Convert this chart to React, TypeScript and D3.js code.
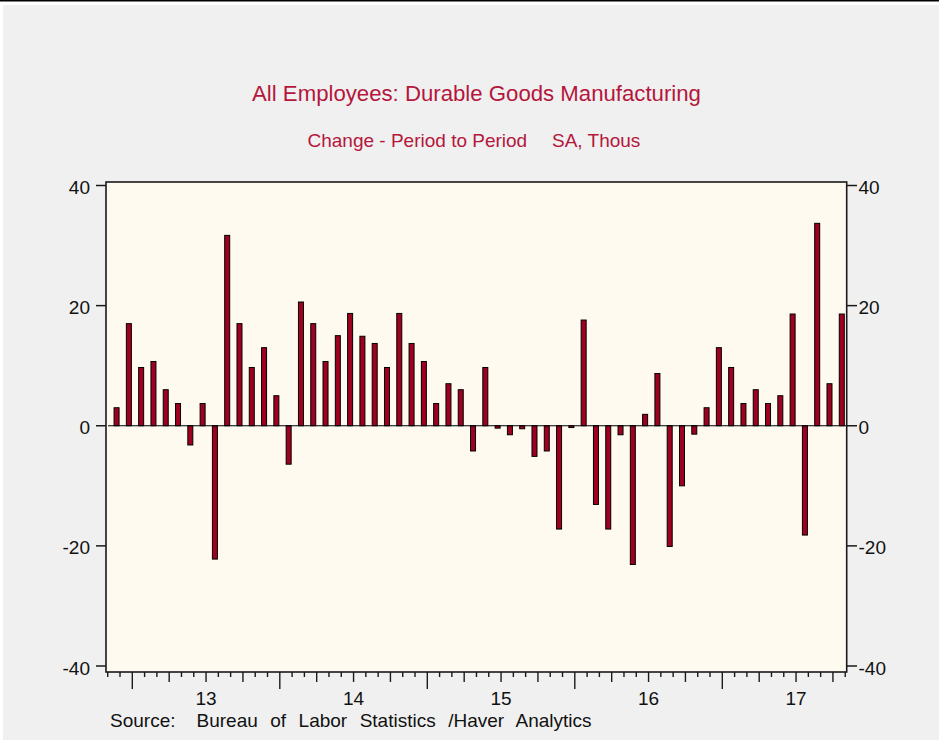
import React, { useEffect } from 'react';
import * as d3 from 'd3';

// Monthly change, SA, thousands — first bar is Nov 2012 (month index -2 relative to Jan 2013)
const firstMonthIndex = -2;
const values = [
  3, 17, 9.7, 10.7, 6, 3.7, -3.2, 3.7, -22.2, 31.7, 17, 9.7, 13, 5,
  -6.4, 20.6, 17, 10.7, 15, 18.7, 14.9, 13.7, 9.7, 18.7, 13.7, 10.7, 3.7, 7, 6, -4.2,
  9.7, -0.4, -1.5, -0.5, -5.1, -4.2, -17.2, -0.3, 17.6, -13.1, -17.2, -1.5, -23.1, 1.9,
  8.7, -20.1, -10, -1.4, 3, 13, 9.7, 3.7, 6, 3.7, 5, 18.6, -18.2, 33.7, 7, 18.6,
];
const yearLabels = ['13', '14', '15', '16', '17'];
const yTicks = [-40, -20, 0, 20, 40];

const title = 'All Employees: Durable Goods Manufacturing';
const subtitleA = 'Change - Period to Period';
const subtitleB = 'SA, Thous';
const sourceA = 'Source:';
const sourceB = 'Bureau of Labor Statistics /Haver Analytics';

const W = 939;
const H = 740;
const plot = { left: 106, right: 846.7, top: 182, bottom: 672 };
const font = "'Liberation Sans', Arial, Helvetica, sans-serif";
const titleColor = '#b5163c';
const barFill = '#a00020';

export default function App() {
  useEffect(() => {
    document.body.style.margin = '0';
  }, []);

  const x = d3.scaleLinear().domain([-2.14, 58.12]).range([plot.left, plot.right]);
  const y = d3.scaleLinear().domain([-40, 40]).range([666, 185.5]);
  const barW = 5;

  const monthTicks = d3.range(Math.ceil(x.domain()[0]), Math.floor(x.domain()[1]) + 1);

  return (
    <svg
      width={W}
      height={H}
      style={{ position: 'absolute', left: 0, top: 0, display: 'block' }}
      fontFamily={font}
    >
      <rect x={0} y={0} width={W} height={H} fill="#ffffff" />
      <rect x={3} y={5} width={W - 3} height={H - 5} fill="#f0f0f0" />
      <rect x={0} y={0} width={W} height={1.5} fill="#000" />

      {/* titles */}
      <text x={476.5} y={101} textAnchor="middle" fontSize={22.2} fill={titleColor}>
        {title}
      </text>
      <text x={307.5} y={147} fontSize={19} fill={titleColor}>
        {subtitleA}
      </text>
      <text x={552} y={147} fontSize={19} fill={titleColor}>
        {subtitleB}
      </text>

      {/* plot background */}
      <rect
        x={plot.left}
        y={plot.top}
        width={plot.right - plot.left}
        height={plot.bottom - plot.top}
        fill="#fffaf0"
      />

      {/* bars */}
      {values.map((v, i) => {
        const m = firstMonthIndex + i;
        const cx = x(m + 0.72);
        const y0 = y(0);
        const y1 = y(v);
        return (
          <rect
            key={i}
            x={cx - barW / 2}
            y={Math.min(y0, y1)}
            width={barW}
            height={Math.max(1, Math.abs(y1 - y0))}
            fill={barFill}
            stroke="#000"
            strokeWidth={1}
          />
        );
      })}

      {/* zero line */}
      <line x1={plot.left + 2} x2={plot.right} y1={y(0)} y2={y(0)} stroke="#000" strokeWidth={1.2} />

      {/* frame */}
      <rect
        x={plot.left}
        y={plot.top}
        width={plot.right - plot.left}
        height={plot.bottom - plot.top}
        fill="none"
        stroke="#1a1a1a"
        strokeWidth={1.6}
      />

      {/* left axis */}
      {yTicks.map((t) => (
        <g key={'l' + t}>
          <line x1={96} x2={plot.left} y1={y(t)} y2={y(t)} stroke="#1a1a1a" strokeWidth={1.5} />
          <text x={90} y={y(t) + 8.5} textAnchor="end" fontSize={19} fill="#111">
            {t}
          </text>
        </g>
      ))}

      {/* right axis */}
      {yTicks.map((t) => (
        <g key={'r' + t}>
          <line x1={plot.right} x2={857} y1={y(t)} y2={y(t)} stroke="#1a1a1a" strokeWidth={1.5} />
          <text x={858.5} y={y(t) + 8.5} textAnchor="start" fontSize={19} fill="#111">
            {t}
          </text>
        </g>
      ))}

      {/* bottom axis month ticks */}
      {monthTicks.map((m) => {
        const mod = ((m % 12) + 12) % 12;
        const len = mod === 0 ? 17 : mod % 3 === 0 ? 10 : 5;
        return (
          <line
            key={'m' + m}
            x1={x(m)}
            x2={x(m)}
            y1={plot.bottom}
            y2={plot.bottom + len}
            stroke="#1a1a1a"
            strokeWidth={1.4}
          />
        );
      })}
      {yearLabels.map((lab, i) => (
        <text key={lab} x={x(i * 12 + 6)} y={705} textAnchor="middle" fontSize={19} fill="#111">
          {lab}
        </text>
      ))}

      {/* source */}
      <text x={110} y={727} fontSize={19} fill="#111">
        {sourceA}
      </text>
      <text x={196.5} y={727} fontSize={19} fill="#111" wordSpacing={7.2}>
        {sourceB}
      </text>
    </svg>
  );
}
